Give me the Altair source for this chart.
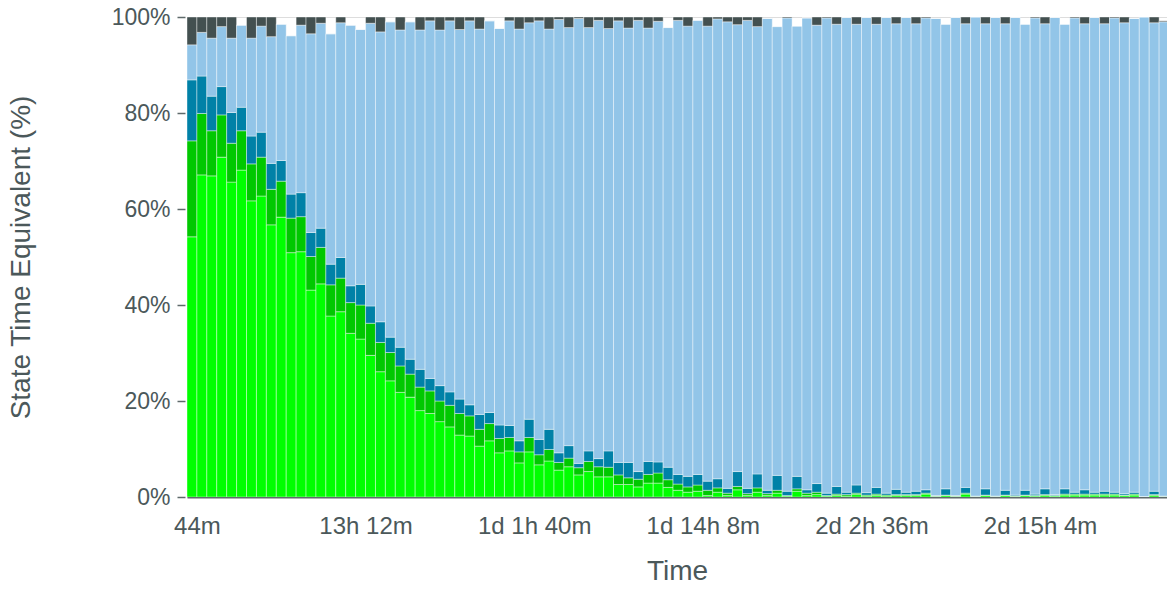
import altair as alt
import pandas as pd

BIN_MINUTES = 44

tick_minutes = [44, 792, 1540, 2288, 3036, 3784]
tick_labels = ["44m", "13h 12m", "1d 1h 40m", "1d 14h 8m", "2d 2h 36m", "2d 15h 4m"]
y_ticks = [0, 20, 40, 60, 80, 100]

series_names = ["Active", "Partial", "Waiting", "Idle", "Offline"]
series_colors = ["#00ff00", "#00c800", "#0081a7", "#92c5e8", "#435050"]

bright_green = [
    54.2, 67.1, 66.9, 70.8, 65.6, 68.1, 61.7, 62.7, 56.7, 58.3,
    50.9, 51.1, 43.1, 44.4, 37.7, 38.6, 34.1, 32.9, 29.5, 26.1,
    24.2, 21.8, 20.8, 18.0, 17.4, 15.7, 14.6, 12.9, 12.7, 10.6,
    11.7, 9.2, 9.6, 7.1, 9.4, 6.7, 7.5, 5.6, 6.3, 4.6,
    5.3, 4.2, 4.2, 2.6, 2.6, 2.1, 2.9, 2.9, 2.0, 1.4,
    1.0, 1.2, 0.3, 1.0, 0.3, 1.5, 0.3, 1.0, 0.3, 0.8,
    0.2, 1.2, 0.3, 0.5, 0.2, 0.3, 0.2, 0.5, 0.2, 0.3,
    0.2, 0.3, 0.3, 0.3, 0.6, 0.1, 0.3, 0.1, 0.6, 0.1,
    0.3, 0.1, 0.3, 0.1, 0.3, 0.2, 0.3, 0.2, 0.4, 0.4,
    0.4, 0.4, 0.4, 0.4, 0.3, 0.4, 0.1, 0.3, 0.1,
]
dark_green = [
    20.0, 12.8, 9.4, 8.8, 8.1, 8.2, 7.7, 8.1, 7.4, 7.5,
    7.2, 7.3, 7.0, 7.6, 6.5, 7.0, 6.4, 7.1, 6.7, 6.1,
    5.9, 5.5, 4.8, 4.9, 4.7, 4.3, 4.5, 4.5, 4.2, 3.5,
    3.6, 3.0, 2.8, 2.3, 3.0, 2.1, 2.4, 1.6, 1.8, 1.5,
    2.1, 2.1, 2.0, 2.0, 1.4, 1.6, 1.8, 2.1, 1.6, 1.3,
    1.1, 1.3, 1.1, 0.9, 0.5, 0.7, 0.4, 0.9, 0.4, 0.6,
    0.1, 0.5, 0.5, 0.5, 0.1, 0.3, 0.3, 0.3, 0.2, 0.3,
    0.2, 0.2, 0.2, 0.2, 0.2, 0.1, 0.1, 0.1, 0.2, 0.05,
    0.1, 0.05, 0.1, 0.1, 0.1, 0.1, 0.2, 0.1, 0.2, 0.2,
    0.2, 0.2, 0.2, 0.2, 0.1, 0.2, 0.0, 0.2, 0.05,
]
teal = [
    12.7, 7.8, 7.2, 5.9, 6.4, 4.9, 5.8, 5.2, 5.4, 4.3,
    5.0, 5.0, 5.0, 4.0, 4.3, 4.3, 3.5, 4.3, 3.6, 4.3,
    3.2, 3.9, 3.1, 3.7, 2.6, 3.2, 2.8, 3.0, 2.3, 3.1,
    2.3, 2.8, 2.5, 2.3, 3.8, 3.2, 4.2, 2.0, 2.6, 0.9,
    2.2, 1.7, 3.4, 2.6, 3.2, 1.6, 2.7, 2.3, 2.6, 2.0,
    2.2, 2.2, 1.9, 1.9, 1.0, 3.1, 1.1, 2.9, 0.7, 3.1,
    0.9, 2.6, 0.7, 1.8, 0.5, 1.6, 0.5, 1.7, 0.5, 1.4,
    0.4, 1.1, 0.5, 0.7, 0.7, 0.1, 1.3, 0.1, 1.2, 0.05,
    1.3, 0.05, 1.0, 0.2, 1.0, 0.3, 1.2, 0.2, 1.1, 0.4,
    0.9, 0.4, 0.6, 0.4, 0.3, 0.4, 0.0, 0.7, 0.05,
]
light_blue = [
    7.3, 9.1, 12.1, 12.5, 15.5, 17.1, 20.4, 22.1, 26.4, 28.4,
    33.0, 34.9, 41.4, 42.7, 48.0, 48.9, 54.3, 53.1, 58.9, 60.4,
    65.7, 66.1, 70.3, 70.7, 74.5, 74.1, 77.3, 77.0, 80.0, 80.3,
    81.6, 82.6, 84.3, 85.8, 82.6, 87.2, 83.4, 90.3, 87.1, 92.7,
    88.2, 91.3, 88.0, 92.0, 90.5, 94.0, 90.3, 91.8, 91.6, 94.6,
    93.8, 94.6, 94.8, 95.8, 97.2, 93.1, 97.5, 93.2, 98.3, 93.5,
    98.6, 93.8, 98.3, 95.5, 99.0, 96.3, 98.9, 96.0, 99.0, 96.5,
    99.1, 97.0, 98.9, 97.4, 98.3, 99.4, 96.8, 99.6, 96.6, 99.8,
    96.9, 99.7, 97.2, 99.5, 97.1, 99.2, 96.9, 99.4, 96.8, 98.8,
    97.1, 98.9, 97.4, 98.8, 98.1, 98.7, 99.9, 97.6, 98.8,
]
dark_gray = [
    5.8, 3.2, 4.4, 2.0, 4.4, 0.0, 4.4, 1.9, 4.1, 0.0,
    0.0, 1.7, 3.5, 1.3, 0.0, 1.2, 0.0, 0.0, 1.3, 3.1,
    0.0, 2.7, 0.0, 2.7, 0.8, 2.7, 0.8, 2.6, 0.8, 2.5,
    0.0, 0.0, 0.8, 2.5, 1.2, 0.8, 2.5, 0.5, 2.2, 0.3,
    2.2, 0.7, 2.4, 0.8, 2.3, 0.7, 2.3, 0.9, 0.0, 0.7,
    1.9, 0.0, 1.9, 0.4, 1.0, 1.6, 0.7, 2.0, 0.0, 0.0,
    0.2, 0.0, 0.0, 1.7, 0.2, 1.5, 0.0, 1.5, 0.0, 1.5,
    0.0, 1.4, 0.0, 1.4, 0.2, 0.0, 0.0, 0.0, 1.4, 0.0,
    1.4, 0.0, 1.4, 0.0, 0.0, 0.2, 1.4, 0.0, 0.0, 0.2,
    1.4, 0.0, 1.4, 0.2, 1.2, 0.0, 0.0, 1.2, 0.2,
]

series_values = [bright_green, dark_green, teal, light_blue, dark_gray]

rows = []
for i in range(len(bright_green)):
    for k, (name, vals) in enumerate(zip(series_names, series_values)):
        rows.append({
            "start": i * BIN_MINUTES,
            "end": (i + 1) * BIN_MINUTES,
            "series": name,
            "order": k,
            "value": vals[i],
        })
df = pd.DataFrame(rows)

x_view_max = 4347  # visible part of the time axis (minutes)

label_expr = " : ".join(
    f"datum.value == {v} ? '{t}'" for v, t in zip(tick_minutes, tick_labels)
) + " : ''"

FONT = "Liberation Sans"
TEXT = "#4b585a"
LINE = "#5f6a6b"

chart = (
    alt.Chart(df)
    .transform_stack(
        stack="value",
        groupby=["start"],
        as_=["y0", "y1"],
        sort=[alt.SortField("order", order="ascending")],
    )
    .mark_bar(clip=True, stroke="white", strokeWidth=1, strokeOpacity=0.4)
    .encode(
        x=alt.X(
            "start:Q",
            title="Time",
            scale=alt.Scale(domain=[0, x_view_max], nice=False, zero=False),
            axis=alt.Axis(
                values=tick_minutes,
                labelExpr=label_expr,
                ticks=False,
                grid=False,
                labelPadding=17,
                labelFontSize=24,
                labelColor=TEXT,
                labelFont=FONT,
                labelFlush=False,
                labelOverlap=False,
                domainColor=LINE,
                domainWidth=2,
                titleFontSize=28,
                titleFont=FONT,
                titleColor=TEXT,
                titleFontWeight="normal",
                titlePadding=19,
            ),
        ),
        x2="end:Q",
        y=alt.Y(
            "y0:Q",
            title="State Time Equivalent (%)",
            scale=alt.Scale(domain=[0, 100], nice=False),
            axis=alt.Axis(
                values=y_ticks,
                labelExpr="datum.value + '%'",
                domain=False,
                grid=False,
                offset=2,
                tickSize=8,
                tickWidth=1.5,
                tickColor=LINE,
                labelPadding=7,
                labelFontSize=23,
                labelColor=TEXT,
                labelFont=FONT,
                labelFlush=False,
                titleFontSize=28,
                titleFont=FONT,
                titleColor=TEXT,
                titleFontWeight="normal",
                titlePadding=76,
            ),
        ),
        y2="y1:Q",
        color=alt.Color(
            "series:N",
            scale=alt.Scale(domain=series_names, range=series_colors),
            legend=None,
        ),
    )
    .properties(
        width=980,
        height=480,
        autosize=alt.AutoSizeParams(type="none"),
        padding={"left": 179, "top": 9, "right": 0, "bottom": 84},
    )
    .configure_view(stroke=None)
    .configure(background="white")
)

chart.save("out.html", embed_options={"renderer": "svg", "actions": False})
